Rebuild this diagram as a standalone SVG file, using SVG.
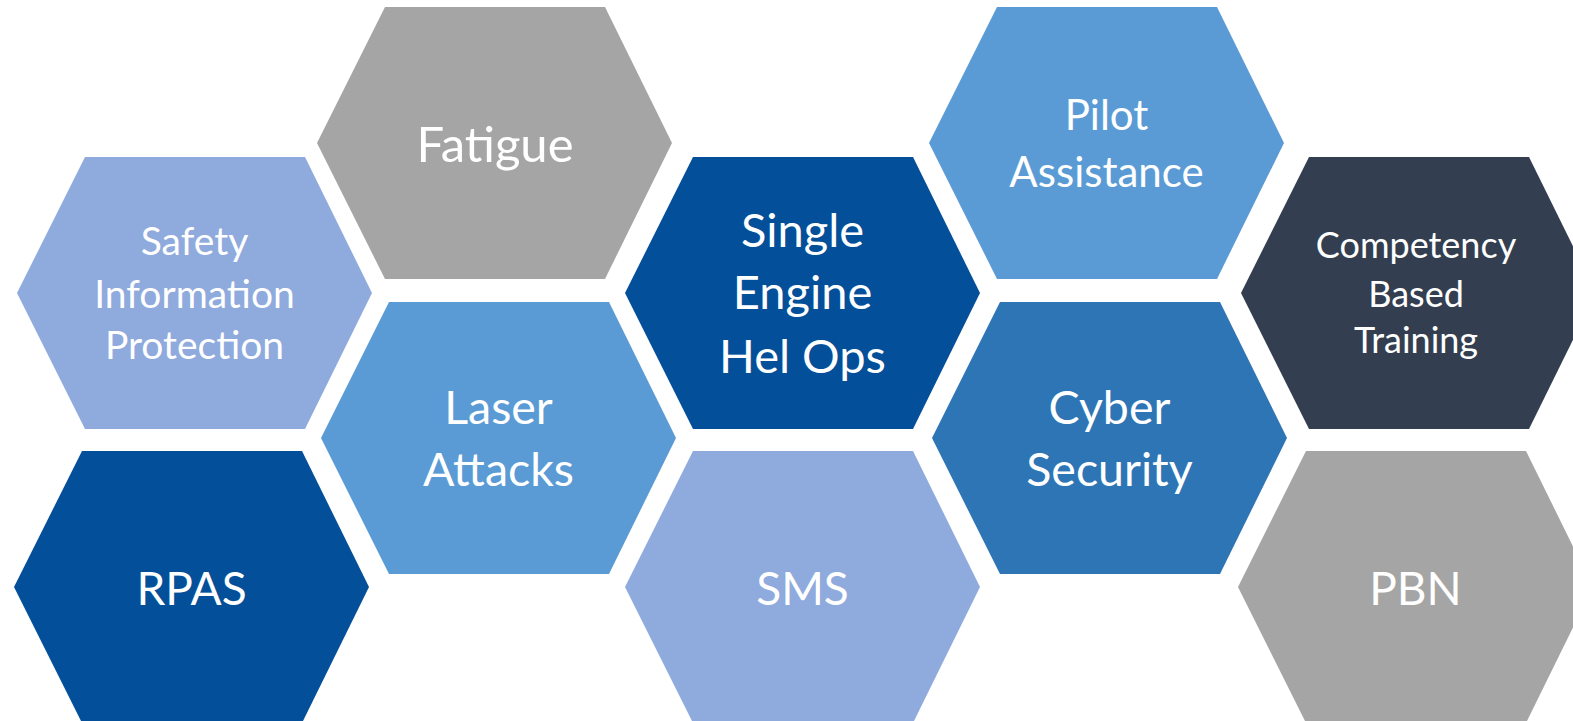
<svg xmlns="http://www.w3.org/2000/svg" width="1573" height="721" viewBox="0 0 1573 721">
<defs>
<style>
text{font-family:Lato,"Open Sans","Liberation Sans",sans-serif;fill:#ffffff;text-anchor:middle}
</style>
<polygon id="hex" points="0,136 68,0 288,0 355,136 288,272 68,272"/>
</defs>
<rect width="1573" height="721" fill="#ffffff"/>
<g id="connectors"></g>
<g id="sip"><use href="#hex" x="17" y="157" fill="#8FAADC"/>
<text font-size="39"><tspan x="194.5" y="255">Safety</tspan><tspan x="194.5" y="308">Information</tspan><tspan x="194.5" y="359">Protection</tspan></text></g>
<g id="fatigue"><use href="#hex" x="317" y="7" fill="#A5A5A5"/>
<text font-size="49" x="495" y="161.5">Fatigue</text></g>
<g id="seho"><use href="#hex" x="625" y="157" fill="#034F99"/>
<text font-size="47"><tspan x="802.5" y="246.5">Single</tspan><tspan x="802.5" y="308.5">Engine</tspan><tspan x="802.5" y="373">Hel Ops</tspan></text></g>
<g id="pilot"><use href="#hex" x="929" y="7" fill="#5B9BD5"/>
<text font-size="42"><tspan x="1106.5" y="130">Pilot</tspan><tspan x="1106.5" y="186.5">Assistance</tspan></text></g>
<g id="cbt"><use href="#hex" x="1241" y="157" fill="#333F50"/>
<text font-size="36"><tspan x="1416" y="258">Competency</tspan><tspan x="1416" y="306.5">Based</tspan><tspan x="1416" y="353">Training</tspan></text></g>
<g id="laser"><use href="#hex" x="321" y="302" fill="#5B9BD5"/>
<text font-size="46.5"><tspan x="498.5" y="424">Laser</tspan><tspan x="498.5" y="485.5">Attacks</tspan></text></g>
<g id="cyber"><use href="#hex" x="932" y="302" fill="#2E75B6"/>
<text font-size="46.5"><tspan x="1109.5" y="424">Cyber</tspan><tspan x="1109.5" y="485.5">Security</tspan></text></g>
<g id="rpas"><use href="#hex" x="14" y="451" fill="#034F99"/>
<text font-size="46" x="191.5" y="605">RPAS</text></g>
<g id="sms"><use href="#hex" x="625" y="451" fill="#8FAADC"/>
<text font-size="46" x="802.5" y="605">SMS</text></g>
<g id="pbn"><use href="#hex" x="1238" y="451" fill="#A5A5A5"/>
<text font-size="46" x="1415.5" y="605">PBN</text></g>
</svg>
